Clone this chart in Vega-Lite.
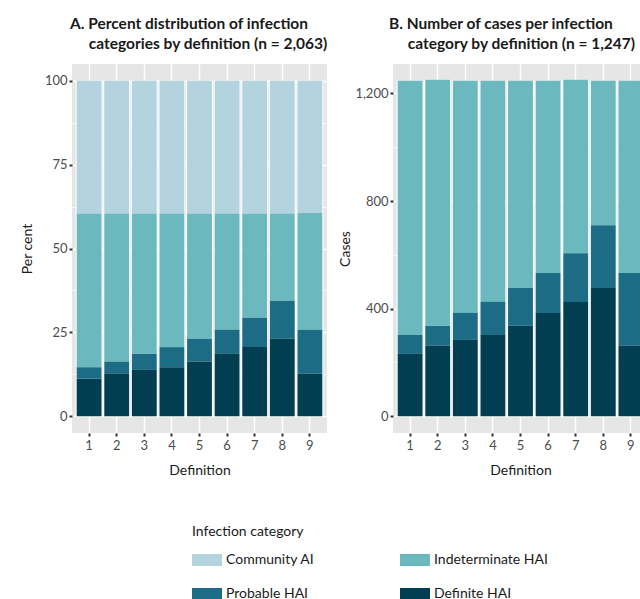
{
  "$schema": "https://vega.github.io/schema/vega-lite/v6.json",
  "padding": {"left": 20, "top": 16, "right": 0, "bottom": 0},
  "background": "white",
  "datasets": {
    "infection": [
      {"definition": "1", "category": "Community AI", "stack_order": 4, "pct": 39.6, "cases": null},
      {"definition": "1", "category": "Indeterminate HAI", "stack_order": 3, "pct": 45.8, "cases": 945},
      {"definition": "1", "category": "Probable HAI", "stack_order": 2, "pct": 3.4, "cases": 70},
      {"definition": "1", "category": "Definite HAI", "stack_order": 1, "pct": 11.2, "cases": 232},
      {"definition": "2", "category": "Community AI", "stack_order": 4, "pct": 39.6, "cases": null},
      {"definition": "2", "category": "Indeterminate HAI", "stack_order": 3, "pct": 44.1, "cases": 915},
      {"definition": "2", "category": "Probable HAI", "stack_order": 2, "pct": 3.6, "cases": 74},
      {"definition": "2", "category": "Definite HAI", "stack_order": 1, "pct": 12.7, "cases": 262},
      {"definition": "3", "category": "Community AI", "stack_order": 4, "pct": 39.6, "cases": null},
      {"definition": "3", "category": "Indeterminate HAI", "stack_order": 3, "pct": 41.8, "cases": 863},
      {"definition": "3", "category": "Probable HAI", "stack_order": 2, "pct": 4.8, "cases": 100},
      {"definition": "3", "category": "Definite HAI", "stack_order": 1, "pct": 13.8, "cases": 284},
      {"definition": "4", "category": "Community AI", "stack_order": 4, "pct": 39.6, "cases": null},
      {"definition": "4", "category": "Indeterminate HAI", "stack_order": 3, "pct": 39.8, "cases": 822},
      {"definition": "4", "category": "Probable HAI", "stack_order": 2, "pct": 6.0, "cases": 123},
      {"definition": "4", "category": "Definite HAI", "stack_order": 1, "pct": 14.6, "cases": 302},
      {"definition": "5", "category": "Community AI", "stack_order": 4, "pct": 39.6, "cases": null},
      {"definition": "5", "category": "Indeterminate HAI", "stack_order": 3, "pct": 37.3, "cases": 770},
      {"definition": "5", "category": "Probable HAI", "stack_order": 2, "pct": 6.8, "cases": 141},
      {"definition": "5", "category": "Definite HAI", "stack_order": 1, "pct": 16.3, "cases": 336},
      {"definition": "6", "category": "Community AI", "stack_order": 4, "pct": 39.6, "cases": null},
      {"definition": "6", "category": "Indeterminate HAI", "stack_order": 3, "pct": 34.6, "cases": 715},
      {"definition": "6", "category": "Probable HAI", "stack_order": 2, "pct": 7.2, "cases": 148},
      {"definition": "6", "category": "Definite HAI", "stack_order": 1, "pct": 18.6, "cases": 384},
      {"definition": "7", "category": "Community AI", "stack_order": 4, "pct": 39.6, "cases": null},
      {"definition": "7", "category": "Indeterminate HAI", "stack_order": 3, "pct": 31.0, "cases": 645},
      {"definition": "7", "category": "Probable HAI", "stack_order": 2, "pct": 8.8, "cases": 181},
      {"definition": "7", "category": "Definite HAI", "stack_order": 1, "pct": 20.6, "cases": 425},
      {"definition": "8", "category": "Community AI", "stack_order": 4, "pct": 39.6, "cases": null},
      {"definition": "8", "category": "Indeterminate HAI", "stack_order": 3, "pct": 26.0, "cases": 537},
      {"definition": "8", "category": "Probable HAI", "stack_order": 2, "pct": 11.3, "cases": 233},
      {"definition": "8", "category": "Definite HAI", "stack_order": 1, "pct": 23.1, "cases": 477},
      {"definition": "9", "category": "Community AI", "stack_order": 4, "pct": 39.4, "cases": null},
      {"definition": "9", "category": "Indeterminate HAI", "stack_order": 3, "pct": 34.8, "cases": 715},
      {"definition": "9", "category": "Probable HAI", "stack_order": 2, "pct": 13.1, "cases": 270},
      {"definition": "9", "category": "Definite HAI", "stack_order": 1, "pct": 12.7, "cases": 262}
    ]
  },
  "hconcat": [
    {
      "width": 255,
      "height": 369,
      "data": {"name": "infection"},
      "title": {
        "text": ["A. Percent distribution of infection", "\u200b\u00a0\u00a0\u00a0\u00a0\u00a0categories by definition (n = 2,063)"],
        "anchor": "start",
        "frame": "group",
        "dx": -2
      },
      "encoding": {
        "x": {
          "field": "definition",
          "type": "ordinal",
          "title": "Definition",
          "scale": {"paddingInner": 0, "paddingOuter": 0.12}
        }
      },
      "layer": [
        {
          "mark": {"type": "bar", "color": "white", "width": {"band": 0.97}},
          "encoding": {
            "y": {"aggregate": "sum", "field": "pct", "type": "quantitative", "title": "Per cent",
                  "scale": {"domain": [-5, 105], "nice": false, "zero": false},
                  "axis": {
                    "values": [0, 12.5, 25, 37.5, 50, 62.5, 75, 87.5, 100],
                    "labelExpr": "datum.value % 25 === 0 ? format(datum.value, 'd') : ''",
                    "tickOpacity": {"condition": {"test": "datum.value % 25 === 0", "value": 1}, "value": 0},
                    "gridWidth": {"condition": {"test": "datum.value % 25 === 0", "value": 1.4}, "value": 0.7},
                    "titlePadding": 10
                  }}
          }
        },
        {
          "mark": {"type": "bar", "width": {"band": 0.9}},
          "encoding": {
            "y": {
              "field": "pct", "type": "quantitative", "title": "Per cent",
              "scale": {"domain": [-5, 105], "nice": false, "zero": false},
              "axis": {
                "values": [0, 12.5, 25, 37.5, 50, 62.5, 75, 87.5, 100],
                "labelExpr": "datum.value % 25 === 0 ? format(datum.value, 'd') : ''",
                "tickOpacity": {"condition": {"test": "datum.value % 25 === 0", "value": 1}, "value": 0},
                "gridWidth": {"condition": {"test": "datum.value % 25 === 0", "value": 1.4}, "value": 0.7},
                "titlePadding": 10
              }
            },
            "order": {"field": "stack_order", "type": "quantitative"},
            "color": {
              "field": "category", "type": "nominal", "title": "Infection category",
              "sort": ["Community AI", "Indeterminate HAI", "Probable HAI", "Definite HAI"],
              "scale": {
                "domain": ["Community AI", "Indeterminate HAI", "Probable HAI", "Definite HAI"],
                "range": ["#b3d3df", "#6bb9bf", "#1b6c84", "#023e51"]
              }
            }
          }
        }
      ]
    },
    {
      "width": 255,
      "height": 369,
      "data": {"name": "infection"},
      "transform": [{"filter": "datum.category !== 'Community AI'"}],
      "title": {
        "text": ["B. Number of cases per infection", "\u200b\u00a0\u00a0\u00a0\u00a0\u00a0category by definition (n = 1,247)"],
        "anchor": "start",
        "frame": "group",
        "dx": -4
      },
      "encoding": {
        "x": {
          "field": "definition",
          "type": "ordinal",
          "title": "Definition",
          "scale": {"paddingInner": 0, "paddingOuter": 0.12}
        }
      },
      "layer": [
        {
          "mark": {"type": "bar", "color": "white", "width": {"band": 0.97}},
          "encoding": {
            "y": {"aggregate": "sum", "field": "cases", "type": "quantitative", "title": "Cases",
                  "scale": {"domain": [-62.35, 1309.35], "nice": false, "zero": false},
                  "axis": {
                    "values": [0, 200, 400, 600, 800, 1000, 1200],
                    "labelExpr": "datum.value % 400 === 0 ? format(datum.value, ',') : ''",
                    "tickOpacity": {"condition": {"test": "datum.value % 400 === 0", "value": 1}, "value": 0},
                    "gridWidth": {"condition": {"test": "datum.value % 400 === 0", "value": 1.4}, "value": 0.7},
                    "titlePadding": 2
                  }}
          }
        },
        {
          "mark": {"type": "bar", "width": {"band": 0.9}},
          "encoding": {
            "y": {
              "field": "cases", "type": "quantitative", "title": "Cases",
              "scale": {"domain": [-62.35, 1309.35], "nice": false, "zero": false},
              "axis": {
                "values": [0, 200, 400, 600, 800, 1000, 1200],
                "labelExpr": "datum.value % 400 === 0 ? format(datum.value, ',') : ''",
                "tickOpacity": {"condition": {"test": "datum.value % 400 === 0", "value": 1}, "value": 0},
                "gridWidth": {"condition": {"test": "datum.value % 400 === 0", "value": 1.4}, "value": 0.7},
                "titlePadding": 2
              }
            },
            "order": {"field": "stack_order", "type": "quantitative"},
            "color": {
              "field": "category", "type": "nominal", "title": "Infection category",
              "sort": ["Community AI", "Indeterminate HAI", "Probable HAI", "Definite HAI"],
              "scale": {
                "domain": ["Community AI", "Indeterminate HAI", "Probable HAI", "Definite HAI"],
                "range": ["#b3d3df", "#6bb9bf", "#1b6c84", "#023e51"]
              }
            }
          }
        }
      ]
    }
  ],
  "spacing": 10,
  "resolve": {"scale": {"y": "independent", "color": "shared"}},
  "config": {
    "font": "Lato",
    "view": {"fill": "#e6e6e6", "stroke": null},
    "title": {"font": "Lato", "fontSize": 15.5, "fontWeight": "bold", "color": "#1a1a1a", "lineHeight": 20, "offset": 12},
    "axis": {
      "labelFont": "Lato", "labelFontSize": 13, "labelColor": "#4d4d4d",
      "titleFont": "Lato", "titleFontSize": 14, "titleFontWeight": "normal", "titleColor": "#1a1a1a",
      "tickColor": "#333333", "tickSize": 3, "tickWidth": 2, "domain": false,
      "grid": true, "gridColor": "#ffffff", "labelPadding": 2
    },
    "axisX": {"labelAngle": 0, "labelPadding": 3, "titlePadding": 11, "gridWidth": 1.4},
    "legend": {
      "orient": "none", "legendX": 120, "legendY": 461,
      "columns": 2, "direction": "horizontal",
      "titleFont": "Lato", "titleFontSize": 14, "titleFontWeight": "normal", "titleColor": "#1a1a1a", "titlePadding": 6,
      "labelFont": "Lato", "labelFontSize": 14, "labelColor": "#1a1a1a", "labelOffset": 4,
      "symbolType": "M-1,-0.4H1V0.4H-1Z", "symbolSize": 900, "symbolStrokeWidth": 0, "symbolOpacity": 1,
      "columnPadding": 85, "rowPadding": 12
    }
  }
}
